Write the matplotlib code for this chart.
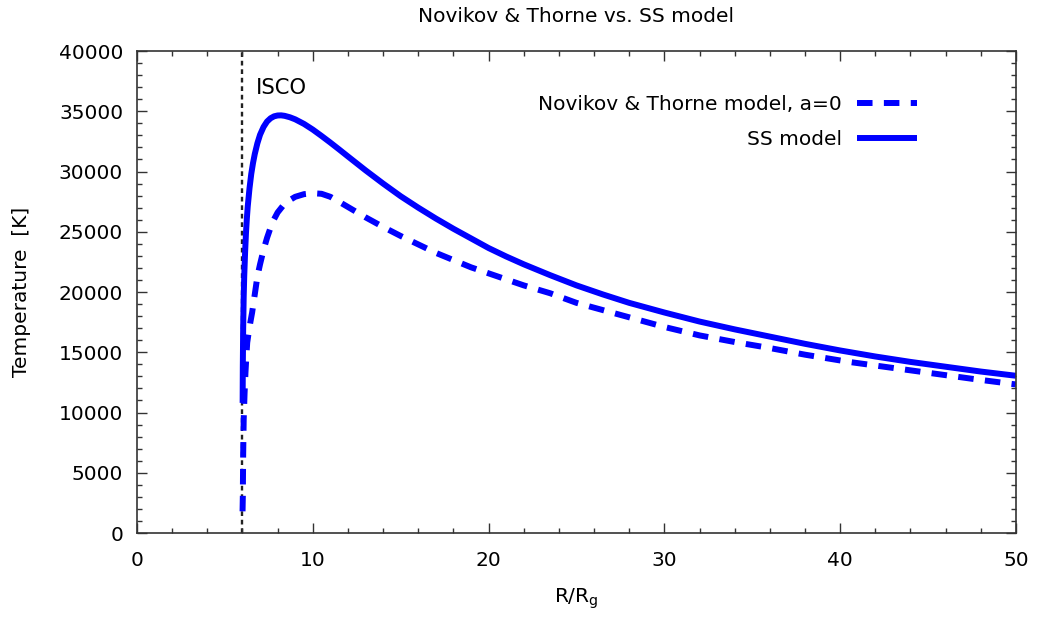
import matplotlib
matplotlib.use("Agg")
import matplotlib.pyplot as plt
from matplotlib.ticker import MultipleLocator

plt.rcParams["font.family"] = ["DejaVu Sans"]
plt.rcParams["font.size"] = 14.5

# Schwarzschild ISCO radius (R/Rg)
isco = 6.0

# Shakura-Sunyaev disc temperature profile
r_ss = [6.01, 6.02, 6.04, 6.07, 6.1, 6.15, 6.2, 6.25, 6.3, 6.4, 6.5, 6.6,
        6.7, 6.85, 7.0, 7.2, 7.4, 7.6, 7.8, 8.0, 8.2, 8.4, 8.7, 9.0, 9.5,
        10, 10.5, 11, 11.5, 12, 13, 14, 15, 16, 17, 18, 19, 20, 21, 22,
        23.5, 25, 26.5, 28, 30, 32, 34, 36, 38, 40, 42, 44, 46, 48, 50]
t_ss = [10800, 13800, 17000, 19600, 21300, 23300, 24900, 26100, 27100,
        28600, 29800, 30700, 31450, 32350, 33050, 33700, 34150, 34420,
        34580, 34650, 34660, 34620, 34500, 34330, 33950, 33480, 32950,
        32400, 31830, 31250, 30100, 29000, 27950, 27000, 26100, 25250,
        24450, 23650, 22950, 22300, 21400, 20550, 19800, 19100, 18300,
        17550, 16900, 16300, 15700, 15150, 14650, 14200, 13800, 13400,
        13050]

# Novikov & Thorne profile for a non-rotating black hole
r_nt = [6.005, 6.02, 6.04, 6.07, 6.12, 6.17, 6.22, 6.27, 6.35, 6.45, 6.55,
        6.7, 6.85, 7.0, 7.2, 7.4, 7.6, 7.8, 8.0, 8.3, 8.6, 9.0, 9.5, 10.0,
        10.5, 11.0, 11.6, 12.3, 13, 14, 15, 16, 17, 18, 19, 20.4, 22,
        23.5, 25, 26.5, 28, 30, 32, 34, 36, 38, 40.5, 43, 45, 47.5, 50]
t_nt = [1800, 3000, 6500, 9400, 11600, 13300, 14600, 15800, 16600, 17500,
        18300, 19800, 21300, 22300, 23500, 24500, 25350, 26050, 26600,
        27150, 27550, 27900, 28120, 28200, 28150, 27900, 27400, 26800,
        26200, 25400, 24650, 23950, 23250, 22650, 22050, 21350, 20550,
        19900, 19100, 18500, 17900, 17100, 16400, 15850, 15350, 14800,
        14200, 13700, 13300, 12800, 12330]

fig = plt.figure(figsize=(10.37, 6.19), dpi=100)
ax = fig.add_axes([0.1321, 0.1389, 0.9797 - 0.1321, 0.9176 - 0.1389])

blue = "#0000ff"
ax.plot(r_nt, t_nt, color=blue, lw=4.3, linestyle=(0, (2.6, 1.9)),
        dash_capstyle="butt", dash_joinstyle="round",
        label="Novikov & Thorne model, a=0")
ax.plot(r_ss, t_ss, color=blue, lw=4.3, solid_capstyle="butt",
        solid_joinstyle="round", label="SS model")

ax.axvline(isco, color="#222222", lw=1.7, linestyle=(0, (2.0, 1.6)), zorder=1)
ax.text(isco + 0.75, 36900, "ISCO", ha="left", va="center", fontsize=15.2)

ax.set_xlim(0, 50)
ax.set_ylim(0, 40000)
ax.xaxis.set_major_locator(MultipleLocator(10))
ax.xaxis.set_minor_locator(MultipleLocator(2))
ax.yaxis.set_major_locator(MultipleLocator(5000))
ax.yaxis.set_minor_locator(MultipleLocator(1000))
ax.tick_params(which="both", direction="in", top=True, right=True,
               width=1.0, color="#333333")
ax.tick_params(which="major", length=7)
ax.tick_params(which="minor", length=3.6)
ax.tick_params(axis="x", pad=13)
ax.tick_params(axis="y", pad=10)
for s in ax.spines.values():
    s.set_linewidth(1.2)
    s.set_color("#333333")

ax.set_xlabel("R/R$_\\mathregular{g}$", labelpad=12)
ax.set_ylabel("Temperature  [K]", labelpad=20)
ax.set_title("Novikov & Thorne vs. SS model", pad=21, fontsize=14.5)

ax.legend(loc="upper right", frameon=False, markerfirst=False,
          handlelength=3.0, handletextpad=0.75, labelspacing=0.78,
          borderaxespad=0.0, bbox_to_anchor=(0.897, 0.925), fontsize=14.5)

fig.savefig("out.png", dpi=100)
